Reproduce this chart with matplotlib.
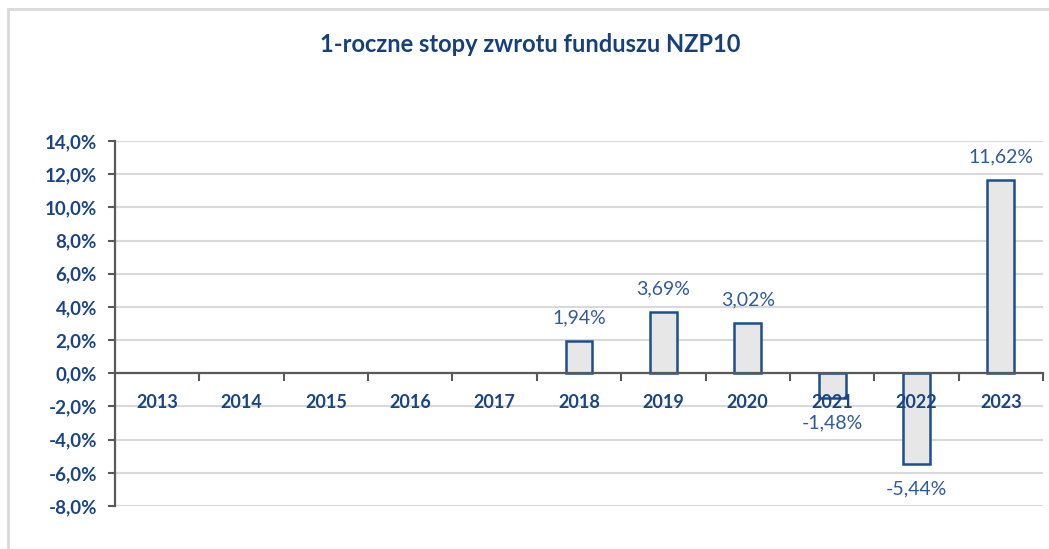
import matplotlib
matplotlib.use("Agg")
import matplotlib.pyplot as plt
from matplotlib.patches import Rectangle
from matplotlib.ticker import FixedLocator

years = ["2013", "2014", "2015", "2016", "2017", "2018", "2019", "2020", "2021", "2022", "2023"]
returns = [None, None, None, None, None, 1.94, 3.69, 3.02, -1.48, -5.44, 11.62]
yticks = [-8, -6, -4, -2, 0, 2, 4, 6, 8, 10, 12, 14]
title = "1-roczne stopy zwrotu funduszu NZP10"

plt.rcParams['font.family'] = ['Lato', 'DejaVu Sans']

dark_blue = "#1a4585"
label_blue = "#2f5b9a"
edge_blue = "#1f4e8c"
axis_grey = "#595959"
grid_grey = "#d9d9d9"

fig = plt.figure(figsize=(10.49, 5.49), dpi=100)
fig.patches.append(Rectangle((8/1049, -0.1), 1.2, 0.1 + 1 - 9/549, transform=fig.transFigure,
                             fill=False, edgecolor=grid_grey, linewidth=2))

ax = fig.add_axes([115/1049, 1 - 506/549, (1043 - 115)/1049, (506 - 141)/549])

ax.spines["top"].set_visible(False)
ax.spines["right"].set_visible(False)
ax.spines["left"].set_color(axis_grey)
ax.spines["left"].set_linewidth(1.6)
ax.spines["bottom"].set_color(axis_grey)
ax.spines["bottom"].set_linewidth(1.6)
ax.spines["bottom"].set_position(("data", 0))

x = list(range(len(years)))
vals = [v if v is not None else 0 for v in returns]
bars = ax.bar(x, vals, width=0.32, color="#e7e7e7", edgecolor=edge_blue, linewidth=1.8, zorder=2)
for b, v in zip(bars, returns):
    if v is None:
        b.set_visible(False)

for xi, v in zip(x, returns):
    if v is None:
        continue
    txt = f"{v:.2f}%".replace(".", ",")
    off = 17 if v >= 0 else -18
    ax.annotate(txt, (xi, v), xytext=(0, off), textcoords="offset points",
                ha="center", va="center", fontsize=14, color=label_blue, zorder=5)

ax.set_xlim(-0.5, len(years) - 0.5)
ax.set_ylim(min(yticks), max(yticks))
ax.set_yticks(yticks)
ax.set_yticklabels([f"{t:.1f}%".replace(".", ",") for t in yticks],
                   fontsize=13.5, fontweight="bold", color=dark_blue)
ax.tick_params(axis="y", direction="out", length=5, width=1.5, color=axis_grey, pad=8)

ax.set_xticks(x)
ax.set_xticklabels(years, fontsize=13, fontweight="bold", color=dark_blue)
ax.tick_params(axis="x", which="major", length=0, pad=15)
ax.xaxis.set_minor_locator(FixedLocator([i + 0.5 for i in range(len(years))]))
ax.tick_params(axis="x", which="minor", direction="out", length=6, width=1.5, color=axis_grey)

ax.set_axisbelow(True)
ax.yaxis.grid(True, color=grid_grey, linewidth=1.5)
ax.xaxis.set_zorder(3)

fig.text(530/1049, 1 - 45/549, title, ha="center", va="center",
         fontsize=17, fontweight="bold", color="#17407a")

fig.savefig("out.png", dpi=100)
